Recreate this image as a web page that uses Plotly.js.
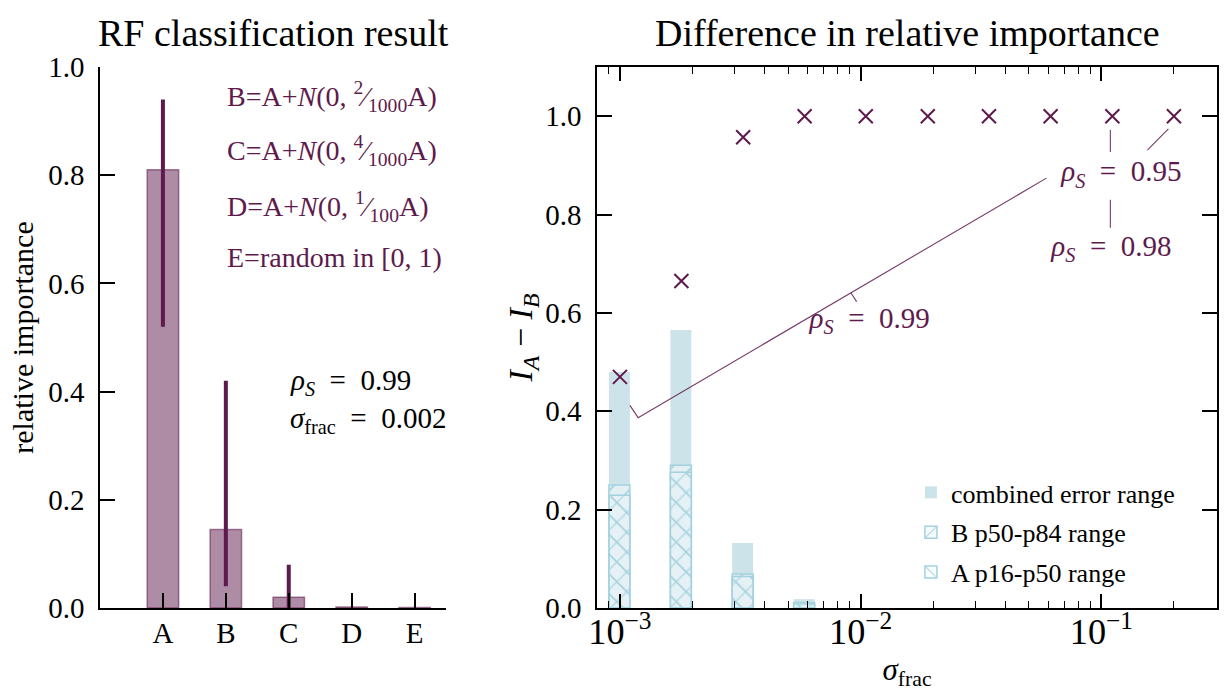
<!DOCTYPE html>
<html><head><meta charset="utf-8">
<script src="https://cdn.plot.ly/plotly-3.0.1.min.js"></script>
<style>html,body{margin:0;padding:0;background:#fff}#chart{width:1232px;height:699px}</style>
</head><body><div id="chart"></div>
<script>
// ---- left panel data ----
const features = ['A', 'B', 'C', 'D', 'E'];
const importance = [0.81, 0.145, 0.02, 0.002, 0.001];
const impLow = [0.52, 0.04, 0.0, 0.002, 0.001];
const impHigh = [0.94, 0.42, 0.08, 0.002, 0.001];

// ---- right panel data ----
const sigmaFrac = [0.001, 0.0018, 0.00325, 0.00585, 0.0105, 0.019, 0.0341, 0.0615, 0.111, 0.2];
const diffAB = [0.47, 0.665, 0.957, 1.0, 1.0, 1.0, 1.0, 1.0, 1.0, 1.0];
const combinedTop = [0.48, 0.565, 0.132, 0.018, 0, 0, 0, 0, 0, 0];
const bP50P84 = [0.25, 0.29, 0.069, 0.011, 0, 0, 0, 0, 0, 0];
const aP16P50 = [0.229, 0.276, 0.064, 0.008, 0, 0, 0, 0, 0, 0];

// label positions (sigma, value) for the rho_S annotations
const rhoText = ['<i>ρ</i><sub><i>S</i></sub>  =  0.95', '<i>ρ</i><sub><i>S</i></sub>  =  0.98', '<i>ρ</i><sub><i>S</i></sub>  =  0.99'];
const rhoTextX = [0.121, 0.110, 0.0109];
const rhoTextY = [0.882, 0.730, 0.584];
const connX = [0.1089, 0.1089, null, 0.1897, 0.1552, null, 0.1089, 0.1089, null, 0.0591, 0.00119, 0.0011, null, 0.0091, 0.00962];
const connY = [0.972, 0.927, null, 0.974, 0.931, null, 0.830, 0.773, null, 0.874, 0.387, 0.412, null, 0.641, 0.623];

const PURPLE = '#5e1a4c';
const HATCH = '#a3d2de';
const FONT = 'Liberation Serif, DejaVu Serif, serif';

const barWidths = sigmaFrac.map(s => 0.2 * s);
const barOffsets = sigmaFrac.map(s => -0.1 * s);
const nz = arr => arr.map(v => (v > 0 ? v : null));

const traces = [
  {
    type: 'bar', x: features, y: importance, xaxis: 'x', yaxis: 'y', width: 0.5,
    marker: {color: 'rgba(94,26,76,0.5)', line: {color: 'rgba(94,26,76,0.55)', width: 1.5}},
    error_y: {type: 'data', symmetric: false,
      array: impHigh.map((h, i) => h - importance[i]),
      arrayminus: impLow.map((l, i) => importance[i] - l),
      color: PURPLE, thickness: 4, width: 0},
    showlegend: false, hoverinfo: 'skip'
  },
  {
    type: 'bar', x: sigmaFrac, y: nz(combinedTop), base: 0, width: barWidths, offset: barOffsets,
    xaxis: 'x2', yaxis: 'y2',
    marker: {color: '#cde3ea', line: {width: 0}}, name: 'combined error range', legendgroup: 'g1'
  },
  {
    type: 'bar', x: sigmaFrac, y: nz(bP50P84), base: 0, width: barWidths, offset: barOffsets,
    xaxis: 'x2', yaxis: 'y2',
    marker: {color: 'rgba(240,247,249,0.6)', line: {width: 1.5, color: HATCH},
      pattern: {shape: '/', fgcolor: HATCH, bgcolor: 'rgba(240,247,249,0.6)', size: 14, solidity: 0.12}},
    name: 'B p50-p84 range', legendgroup: 'g2'
  },
  {
    type: 'bar', x: sigmaFrac, y: nz(aP16P50), base: 0, width: barWidths, offset: barOffsets,
    xaxis: 'x2', yaxis: 'y2',
    marker: {color: 'rgba(240,247,249,0.3)', line: {width: 1.5, color: HATCH},
      pattern: {shape: '\\', fgcolor: HATCH, bgcolor: 'rgba(240,247,249,0.3)', size: 14, solidity: 0.12}},
    name: 'A p16-p50 range', legendgroup: 'g3'
  },
  {
    type: 'scatter', x: sigmaFrac, y: diffAB, xaxis: 'x2', yaxis: 'y2', mode: 'markers',
    marker: {symbol: 'x-thin', size: 14, line: {width: 2, color: PURPLE}, color: PURPLE},
    showlegend: false
  },
  {
    type: 'scatter', x: connX, y: connY, xaxis: 'x2', yaxis: 'y2', mode: 'lines',
    line: {color: 'rgba(94,26,76,0.85)', width: 1.1}, showlegend: false, hoverinfo: 'skip'
  },
  {
    type: 'scatter', x: rhoTextX, y: rhoTextY, xaxis: 'x2', yaxis: 'y2', mode: 'text',
    text: rhoText, textposition: 'middle center',
    textfont: {family: FONT, size: 29, color: PURPLE}, showlegend: false, hoverinfo: 'skip'
  }
];

const axisCommon = {
  showline: true, linecolor: '#000', linewidth: 1.5, ticks: 'inside', tickwidth: 1.5,
  ticklen: 15, tickcolor: '#000', showgrid: false, zeroline: false,
  tickfont: {family: FONT, size: 29, color: '#000'}
};

const F = (size, color) => ({family: FONT, size: size, color: color || '#000'});
const ann = [
  {text: 'RF classification result', xref: 'paper', yref: 'paper', x: 0.1549, y: 1.0, yshift: 34,
   xanchor: 'center', yanchor: 'middle', showarrow: false, font: F(38)},
  {text: 'Difference in relative importance', xref: 'paper', yref: 'paper', x: 0.7225, y: 1.0, yshift: 34,
   xanchor: 'center', yanchor: 'middle', showarrow: false, font: F(38)},
  {text: 'B=A+<i>N</i>(0, <sup>2</sup>⁄<sub>1000</sub>A)', xref: 'x', yref: 'y', x: 0.986, y: 0.945, xanchor: 'left', yanchor: 'middle', showarrow: false, font: F(28, PURPLE)},
  {text: 'C=A+<i>N</i>(0, <sup>4</sup>⁄<sub>1000</sub>A)', xref: 'x', yref: 'y', x: 0.986, y: 0.845, xanchor: 'left', yanchor: 'middle', showarrow: false, font: F(28, PURPLE)},
  {text: 'D=A+<i>N</i>(0, <sup>1</sup>⁄<sub>100</sub>A)', xref: 'x', yref: 'y', x: 0.986, y: 0.743, xanchor: 'left', yanchor: 'middle', showarrow: false, font: F(28, PURPLE)},
  {text: 'E=random in [0, 1)', xref: 'x', yref: 'y', x: 0.986, y: 0.647, xanchor: 'left', yanchor: 'middle', showarrow: false, font: F(28, PURPLE)},
  {text: '<i>ρ</i><sub><i>S</i></sub>  =  0.99', xref: 'x', yref: 'y', x: 1.99, y: 0.418, xanchor: 'left', yanchor: 'middle', showarrow: false, font: F(29)},
  {text: '<i>σ</i><sub>frac</sub>  =  0.002', xref: 'x', yref: 'y', x: 1.99, y: 0.347, xanchor: 'left', yanchor: 'middle', showarrow: false, font: F(29)}
];

const layout = {
  width: 1232, height: 699,
  margin: {l: 100, r: 15, t: 67, b: 91},
  paper_bgcolor: '#fff', plot_bgcolor: '#fff',
  font: {family: FONT, color: '#000'},
  barmode: 'overlay',
  xaxis: Object.assign({}, axisCommon, {domain: [0, 0.3098], range: [-1, 4.5], type: 'category',
    ticklabelstandoff: -2}),
  yaxis: Object.assign({}, axisCommon, {range: [0, 1.0], tickvals: [0, 0.2, 0.4, 0.6, 0.8, 1.0], tickformat: '.1f',
    ticklabelstandoff: 8,
    title: {text: 'relative importance', font: F(30), standoff: 6}}),
  xaxis2: Object.assign({}, axisCommon, {domain: [0.445, 1], anchor: 'y2', type: 'log', range: [-3.095, -0.52],
    dtick: 1, exponentformat: 'power', mirror: 'allticks', ticklen: 14, ticklabelstandoff: -8,
    minor: {ticks: 'inside', ticklen: 7, tickwidth: 1, tickcolor: '#000', dtick: 'D1', showgrid: false},
    title: {text: '<i>σ</i><sub>frac</sub>', font: F(31), standoff: 4}}),
  yaxis2: Object.assign({}, axisCommon, {anchor: 'x2', range: [0, 1.1], tickvals: [0, 0.2, 0.4, 0.6, 0.8, 1.0],
    tickformat: '.1f', mirror: 'allticks', ticklabelstandoff: 8,
    title: {text: '<i>I</i><sub><i>A</i></sub> − <i>I</i><sub><i>B</i></sub>', font: F(34), standoff: 2}}),
  showlegend: true,
  legend: {x: 0.726, y: 0.257, xanchor: 'left', yanchor: 'top', bgcolor: 'rgba(0,0,0,0)',
    font: F(26), traceorder: 'grouped', tracegroupgap: 3},
  annotations: ann
};

Plotly.newPlot('chart', traces, layout, {displayModeBar: false, responsive: false});
</script></body></html>
